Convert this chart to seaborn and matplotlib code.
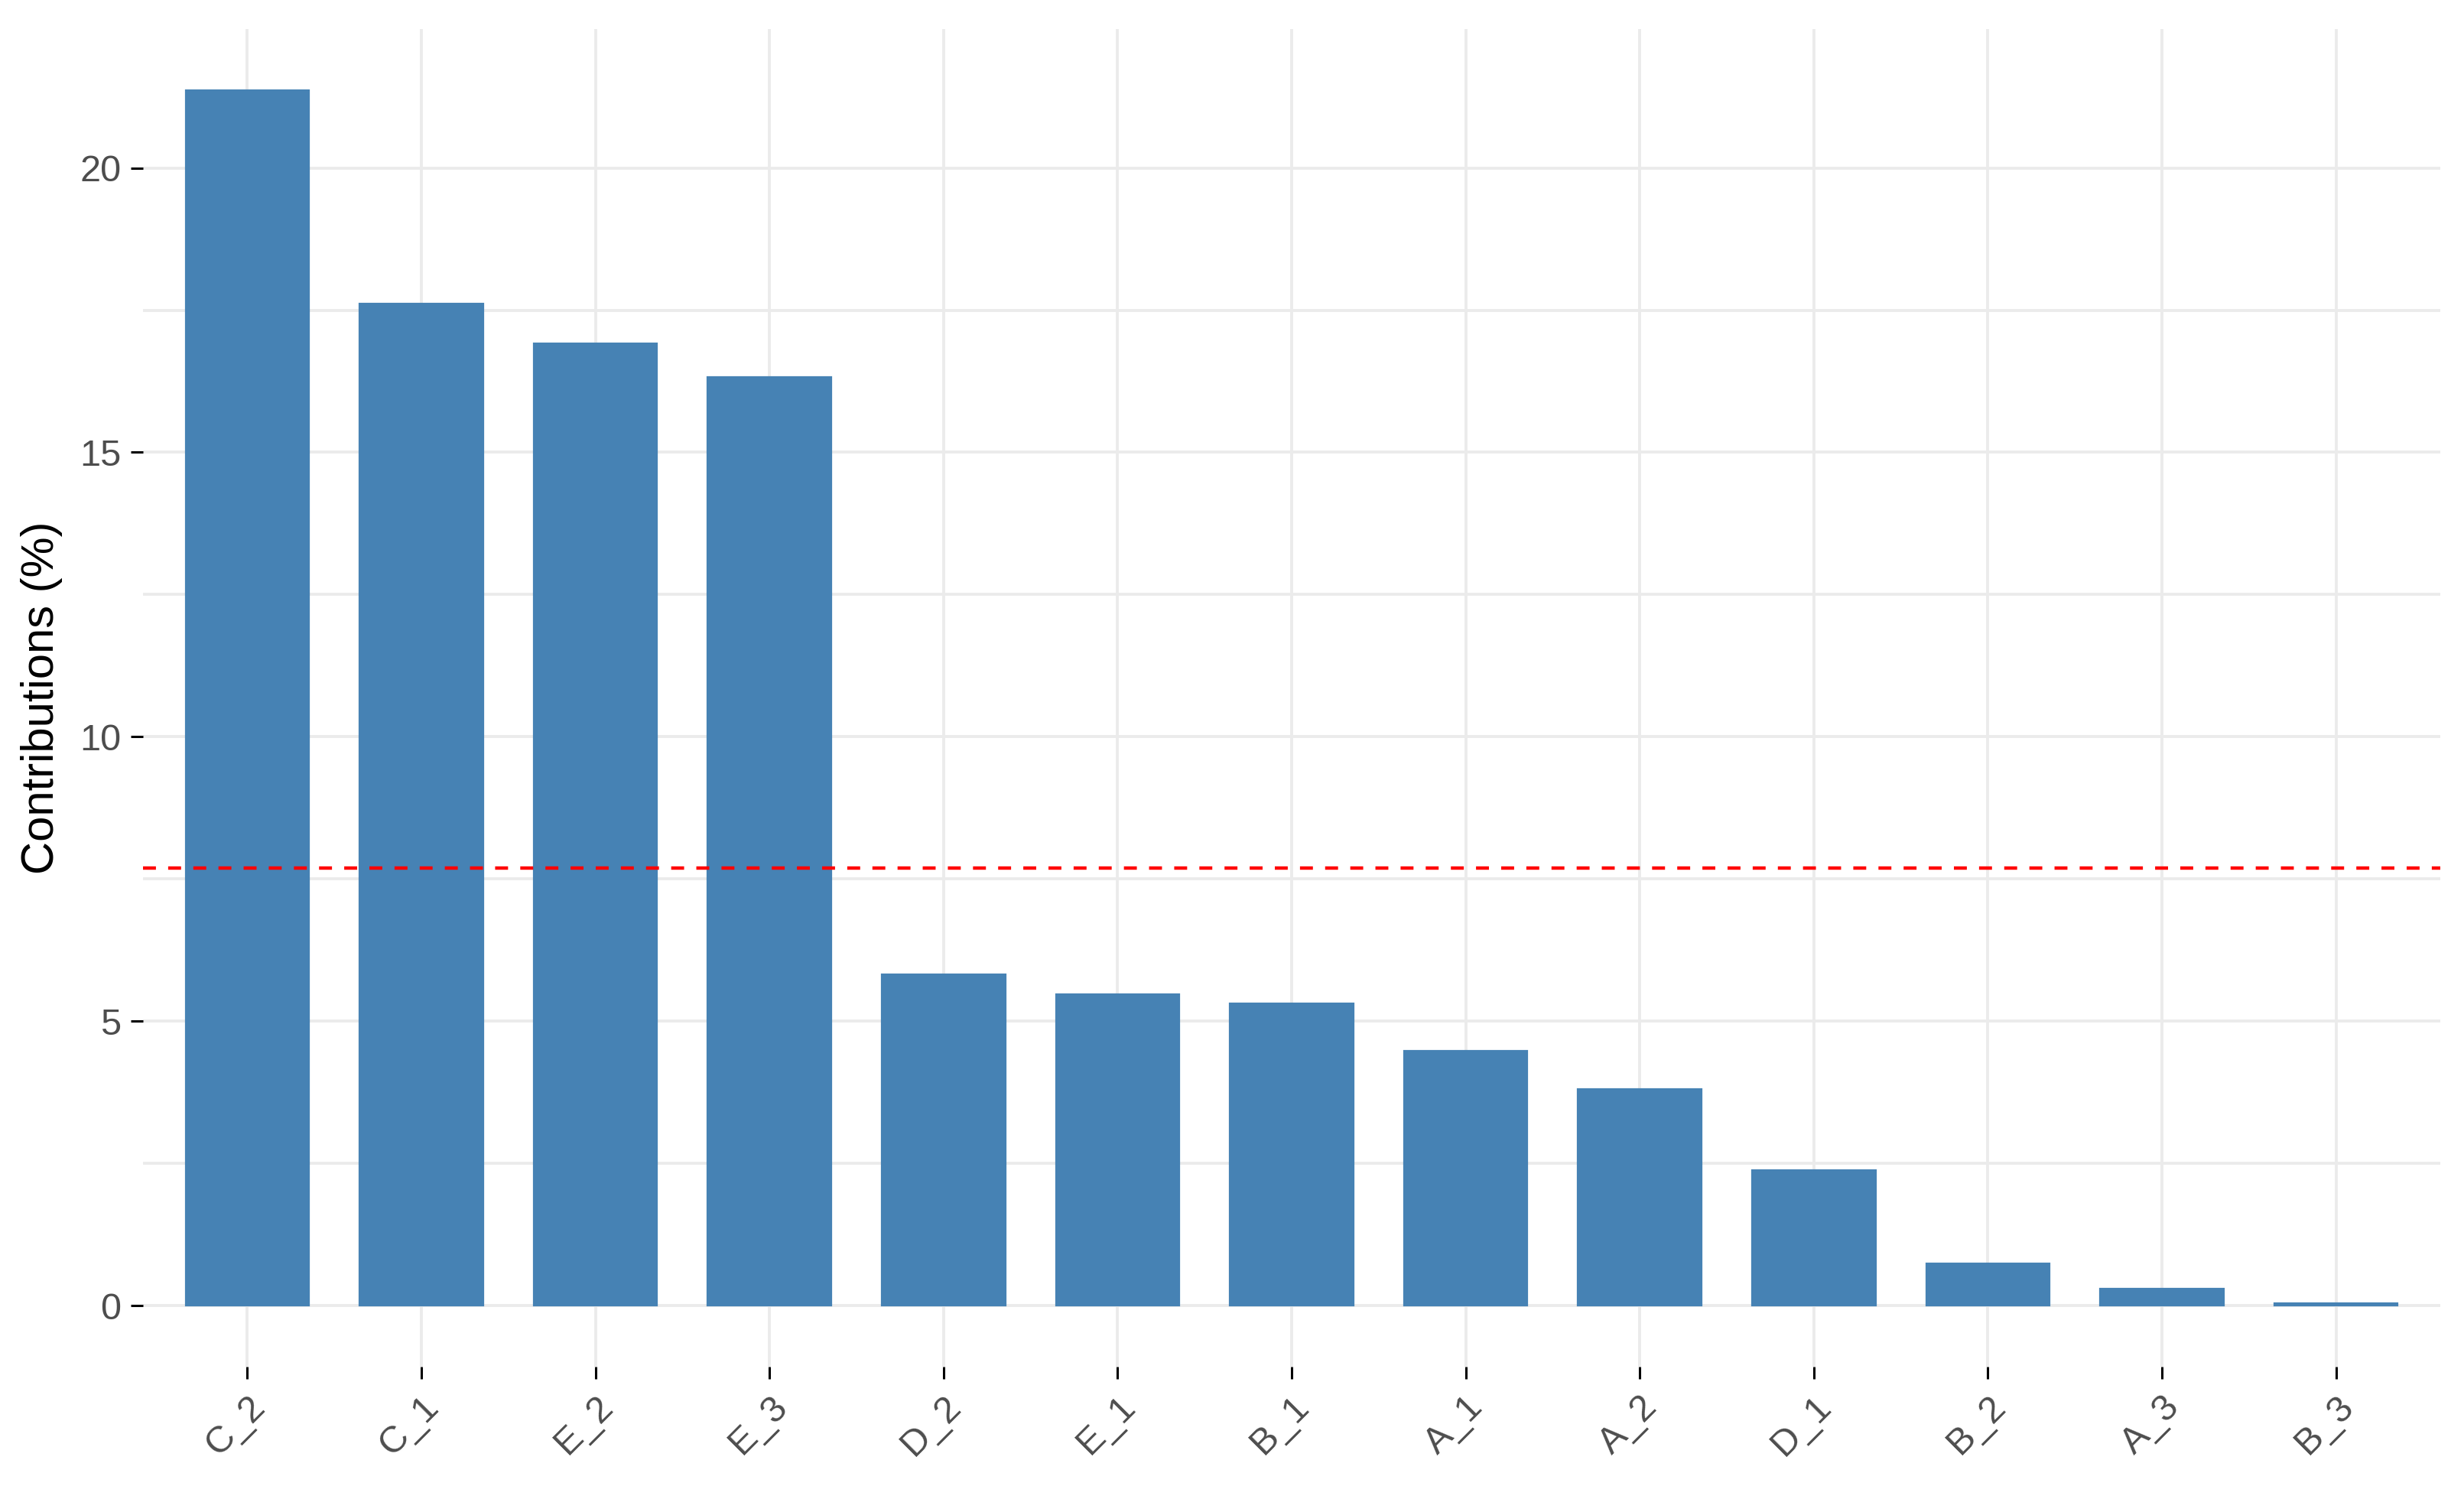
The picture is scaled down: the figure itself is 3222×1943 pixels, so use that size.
import matplotlib
matplotlib.use("Agg")
import matplotlib.pyplot as plt
import seaborn as sns
import pandas as pd
from matplotlib.ticker import MultipleLocator

# --- data ------------------------------------------------------------
categories = ["C_2", "C_1", "E_2", "E_3", "D_2", "E_1", "B_1",
              "A_1", "A_2", "D_1", "B_2", "A_3", "B_3"]
contrib = [21.37, 17.61, 16.91, 16.33, 5.82, 5.48, 5.31,
           4.48, 3.81, 2.39, 0.75, 0.30, 0.05]
expected = 100 / len(categories)   # red reference line

df = pd.DataFrame({"variable": categories, "contrib": contrib})

sns.set_theme(style="whitegrid")
plt.rcParams["font.family"] = ["Liberation Sans", "DejaVu Sans"]

fig = plt.figure(figsize=(16.11, 9.715), dpi=200)
ax = fig.add_axes([0.058, 0.0803, 0.9324, 0.9001])

sns.barplot(data=df, x="variable", y="contrib", order=categories,
            color="steelblue", saturation=1, width=0.71,
            edgecolor="steelblue", linewidth=0.8, ax=ax)
ax.axhline(expected, color="red", linewidth=1.6, linestyle=(0, (3.8, 3.6)))

# ggplot-like expansion
n = len(categories)
ax.set_xlim(-0.6, n - 0.4)
ymax = max(contrib)
ax.set_ylim(-0.05 * ymax, 1.05 * ymax)

ax.yaxis.set_major_locator(MultipleLocator(5))
ax.yaxis.set_minor_locator(MultipleLocator(2.5))
ax.grid(which="major", color="#EBEBEB", linewidth=1.4)
ax.grid(which="minor", axis="y", color="#EBEBEB", linewidth=1.4)
ax.set_axisbelow(True)
for s in ax.spines.values():
    s.set_visible(False)

ax.tick_params(axis="both", which="major", length=5.8, width=1.1,
               color="black", labelcolor="#4D4D4D", labelsize=17.5,
               bottom=True, left=True)
ax.tick_params(axis="x", pad=5)
ax.tick_params(axis="y", pad=4.5)
ax.tick_params(which="minor", left=False, bottom=False)
for lab in ax.get_xticklabels():
    lab.set_rotation(45)
    lab.set_ha("right")
    lab.set_va("top")
    lab.set_rotation_mode("anchor")

ax.set_xlabel("")
ax.set_ylabel("Contributions (%)", fontsize=21.5, color="black")
ax.yaxis.label.set_va("center")
ax.yaxis.set_label_coords(-0.0441, 0.5)

fig.savefig("out.png", dpi=200, facecolor="white")
